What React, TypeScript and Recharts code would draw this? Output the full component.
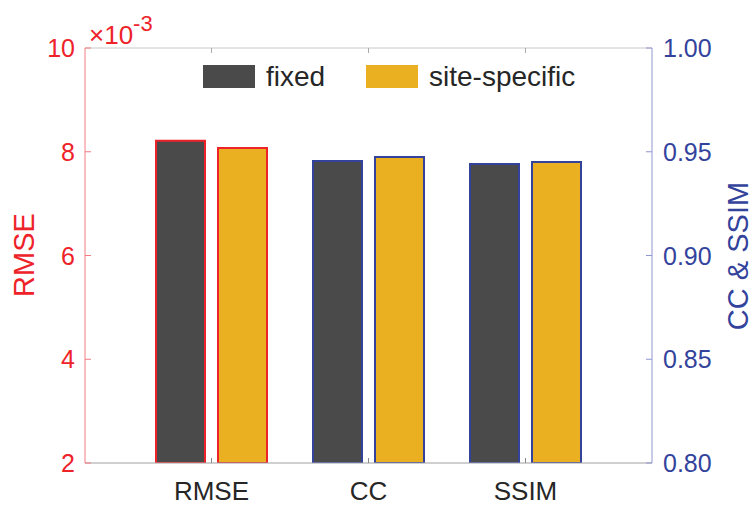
import React from 'react';
import { BarChart, Bar, XAxis, YAxis } from 'recharts';

const categories = ['RMSE', 'CC', 'SSIM'];
// RMSE is in units of 1e-3 (left axis), CC and SSIM on the right axis
const fixedValues = [8.21, 0.9455, 0.9441];
const siteValues = [8.07, 0.9475, 0.9451];
const seriesNames = ['fixed', 'site-specific'];
const leftTicks = [2, 4, 6, 8, 10];
const rightTicks = [0.8, 0.85, 0.9, 0.95, 1.0];

const FONT = '"Liberation Sans", Arial, sans-serif';
const RED = '#ee2229';
const RED_AXIS = '#f47a80';
const BLUE = '#33439c';
const BLUE_AXIS = '#8f97d0';
const FIXED = '#4a4a4a';
const SITE = '#ebb022';

const data = categories.map((name, i) => ({
  name,
  rmseFixed: i === 0 ? fixedValues[i] : null,
  rmseSite: i === 0 ? siteValues[i] : null,
  ccFixed: i > 0 ? fixedValues[i] : null,
  ccSite: i > 0 ? siteValues[i] : null,
}));

const LeftTick = (props: any) => {
  const { x, y, payload } = props;
  return (
    <g>
      <line x1={x} y1={y} x2={x + 6} y2={y} stroke={RED_AXIS} />
      <text x={x - 10} y={y} dy="0.36em" textAnchor="end" fill={RED} fontSize={25} fontFamily={FONT}>
        {payload.value}
      </text>
    </g>
  );
};

const RightTick = (props: any) => {
  const { x, y, payload } = props;
  return (
    <g>
      <line x1={x} y1={y} x2={x - 6} y2={y} stroke={BLUE_AXIS} />
      <text x={x + 11} y={y} dy="0.36em" textAnchor="start" fill={BLUE} fontSize={25} fontFamily={FONT}>
        {Number(payload.value).toFixed(2)}
      </text>
    </g>
  );
};

const BottomTick = (props: any) => {
  const { x, y, payload } = props;
  return (
    <g>
      <line x1={x} y1={y} x2={x} y2={y - 5} stroke="#888" />
      <text x={x} y={y + 37} textAnchor="middle" fill="#262626" fontSize={26} fontFamily={FONT}>
        {payload.value}
      </text>
    </g>
  );
};

const TopTick = (props: any) => {
  const { x, y } = props;
  return <line x1={x} y1={y} x2={x} y2={y + 5} stroke="#aaa" />;
};

export default function App() {
  const legendX = [203, 366];
  const legendColors = [FIXED, SITE];
  return (
    <div style={{ position: 'absolute', left: 0, top: 0, width: 755, height: 505, background: '#fff' }}>
      <BarChart
        width={755}
        height={505}
        data={data}
        margin={{ top: 28, right: 43, bottom: 0, left: 25 }}
        barCategoryGap={23}
        barGap={13}
      >
        <XAxis
          dataKey="name"
          height={42}
          padding={{ left: 48, right: 48 }}
          axisLine={{ stroke: '#a0a0a0' }}
          tickLine={false}
          tickSize={0}
          tickMargin={0}
          interval={0}
          tick={<BottomTick />}
        />
        <XAxis
          xAxisId="top"
          dataKey="name"
          orientation="top"
          height={20}
          padding={{ left: 48, right: 48 }}
          axisLine={{ stroke: '#c8c8c8' }}
          tickLine={false}
          tickSize={0}
          tickMargin={0}
          interval={0}
          tick={<TopTick />}
        />
        <YAxis
          yAxisId="left"
          width={60}
          domain={[2, 10]}
          ticks={leftTicks}
          allowDataOverflow
          interval={0}
          axisLine={{ stroke: RED_AXIS }}
          tickLine={false}
          tickSize={0}
          tickMargin={0}
          tick={<LeftTick />}
        />
        <YAxis
          yAxisId="right"
          orientation="right"
          width={60}
          domain={[0.8, 1.0]}
          ticks={rightTicks}
          allowDataOverflow
          interval={0}
          axisLine={{ stroke: BLUE_AXIS }}
          tickLine={false}
          tickSize={0}
          tickMargin={0}
          tick={<RightTick />}
        />
        <Bar yAxisId="left" dataKey="rmseFixed" name={seriesNames[0]} stackId="fixed" fill={FIXED} stroke={RED} strokeWidth={2} isAnimationActive={false} />
        <Bar yAxisId="left" dataKey="rmseSite" name={seriesNames[1]} stackId="site" fill={SITE} stroke={RED} strokeWidth={2} isAnimationActive={false} />
        <Bar yAxisId="right" dataKey="ccFixed" name={seriesNames[0]} stackId="fixed" fill={FIXED} stroke={BLUE} strokeWidth={2} isAnimationActive={false} />
        <Bar yAxisId="right" dataKey="ccSite" name={seriesNames[1]} stackId="site" fill={SITE} stroke={BLUE} strokeWidth={2} isAnimationActive={false} />
      </BarChart>
      <svg width={755} height={505} style={{ position: 'absolute', left: 0, top: 0, pointerEvents: 'none' }}>
        <text x={89} y={44} fill={RED} fontSize={26} fontFamily={FONT}>
          ×10
          <tspan dy={-13} fontSize={22}>-3</tspan>
        </text>
        <text transform="translate(24,255) rotate(-90)" textAnchor="middle" dy="0.36em" fill={RED} fontSize={29} fontFamily={FONT}>
          RMSE
        </text>
        <text transform="translate(738,256) rotate(-90)" textAnchor="middle" dy="0.36em" fill={BLUE} fontSize={29} fontFamily={FONT}>
          CC &amp; SSIM
        </text>
        {seriesNames.map((n, i) => (
          <g key={n}>
            <rect x={legendX[i]} y={65} width={52} height={23} fill={legendColors[i]} />
            <text x={legendX[i] + 63} y={76} dy="0.36em" fill="#262626" fontSize={28} fontFamily={FONT}>
              {n}
            </text>
          </g>
        ))}
      </svg>
    </div>
  );
}
